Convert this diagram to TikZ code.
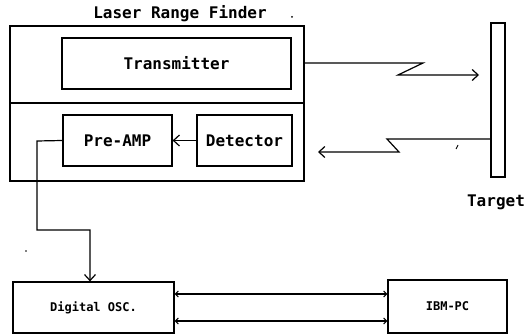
\documentclass[tikz,border=0pt]{standalone}
\usepackage{fontspec}
\newfontfamily\plotfont{DejaVu Sans Mono}
\usetikzlibrary{arrows.meta}
\tikzset{
  box/.style={draw, line width=1.2pt, minimum width=#1, inner sep=0pt},
  bigtxt/.style={font=\plotfont\bfseries\fontsize{16}{18}\selectfont},
  smalltxt/.style={font=\plotfont\bfseries\fontsize{12}{14}\selectfont},
  wire/.style={line width=1.2pt, -{Straight Barb[length=6pt,width=11pt,line width=1.2pt]}},
  bus/.style={line width=1.2pt, {Straight Barb[length=3pt,width=6pt,line width=1pt]}-{Straight Barb[length=3pt,width=6pt,line width=1pt]}},
}
\begin{document}
\begin{tikzpicture}[x=1pt,y=-1pt]
\useasboundingbox (0,0) rectangle (527,336);
% Laser range finder housing
\node[box=294pt, minimum height=77pt] (upper) at (157,64.5) {};
\node[box=294pt, minimum height=78pt] (lower) at (157,142) {};
\node[bigtxt, anchor=center] (title) at (180,14) {Laser Range Finder};
\fill (292,17) circle (1pt);
% inner blocks
\node[box=229pt, minimum height=51pt, bigtxt] (tx) at (176.5,63.5) {Transmitter};
\node[box=109pt, minimum height=51pt, bigtxt] (pre) at (117.5,140.5) {Pre-AMP};
\node[box=95pt, minimum height=51pt, bigtxt] (det) at (244.5,140.5) {Detector};
% target
\node[box=14pt, minimum height=154pt] (target) at (498,100) {};
\node[bigtxt] (tlabel) at (496,202) {Target};
% bottom blocks
\node[box=161pt, minimum height=51pt, smalltxt] (dosc) at (93.5,307.5) {Digital OSC.};
\node[box=119pt, minimum height=53pt, smalltxt] (ibm) at (447.5,306.5) {IBM-PC};
% coordinates
\coordinate (z1) at (423,63);
\coordinate (z2) at (398,75);
\coordinate (beam) at (479,75);
\coordinate (r0) at (491,139);
\coordinate (r1) at (387,139);
\coordinate (r2) at (399,152);
\coordinate (rend) at (318,152);
\coordinate (k0) at (37,141);
\coordinate (k1) at (37,230);
\coordinate (k2) at (90,230);
% connectors
\draw[wire] (det.west) -- (pre.east);
\draw[wire] (pre.west) -- (k0) -- (k1) -- (k2) -- (k2 |- dosc.north);
\draw[wire] (upper.east |- z1) -- (z1) -- (z2) -- (beam);
\draw[wire] (target.west |- r0) -- (r1) -- (r2) -- (rend);
\draw[bus] (dosc.east |- 0,294) -- (ibm.west |- 0,294);
\draw[bus] (dosc.east |- 0,321) -- (ibm.west |- 0,321);
% small marks
\fill (26,251) circle (0.9pt);
\draw[line width=0.9pt] (456,149) -- (458,145);
\end{tikzpicture}
\end{document}
